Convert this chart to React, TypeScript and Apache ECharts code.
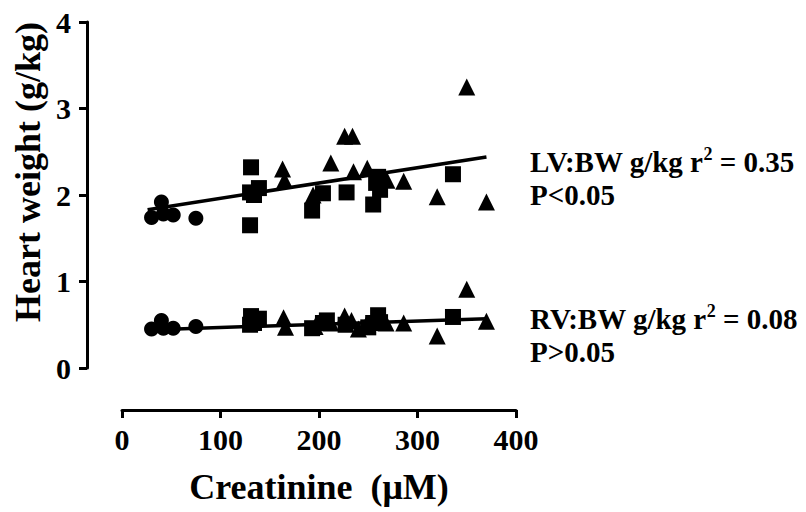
import React, { useEffect, useRef } from "react";
import * as echarts from "echarts";

// Creatinine (µM) vs heart weight normalised to body weight (g/kg)
const lvCircles: [number, number][] = [
  [30, 1.74], [40, 1.92], [42, 1.78], [52, 1.77], [75, 1.73],
];
const lvSquares: [number, number][] = [
  [130, 1.65], [131, 2.32], [130, 2.03], [134, 2.0], [139, 2.08],
  [193, 1.82], [204, 2.02], [228, 2.03], [255, 1.89], [260, 2.21],
  [262, 2.06], [258, 2.14], [336, 2.24],
];
const lvTriangles: [number, number][] = [
  [163, 2.3], [165, 2.17], [194, 2.0], [212, 2.37], [226, 2.68],
  [234, 2.68], [235, 2.27], [249, 2.31], [269, 2.17], [286, 2.16],
  [320, 1.98], [350, 3.25], [370, 1.92],
];
const rvCircles: [number, number][] = [
  [30, 0.45], [40, 0.55], [42, 0.46], [52, 0.46], [75, 0.48],
];
const rvSquares: [number, number][] = [
  [130, 0.5], [131, 0.6], [134, 0.52], [139, 0.57], [193, 0.46],
  [204, 0.52], [208, 0.55], [227, 0.5], [250, 0.47], [255, 0.52],
  [260, 0.61], [262, 0.53], [336, 0.59],
];
const rvTriangles: [number, number][] = [
  [164, 0.58], [166, 0.47], [196, 0.48], [212, 0.52], [226, 0.6],
  [233, 0.55], [240, 0.45], [248, 0.5], [268, 0.52], [286, 0.52],
  [320, 0.37], [350, 0.91], [370, 0.54],
];
// Linear fits drawn between their end points
const lvFit: [number, number][] = [[26, 1.83], [370, 2.44]];
const rvFit: [number, number][] = [[26, 0.44], [370, 0.57]];

const xTicks = [0, 100, 200, 300, 400];
const yTicks = [0, 1, 2, 3, 4];

const FONT = "'Liberation Serif', 'Times New Roman', Times, serif";

export default function App() {
  const ref = useRef<HTMLDivElement>(null);

  useEffect(() => {
    if (!ref.current) return;
    const chart = echarts.init(ref.current, undefined, { renderer: "svg" });

    const scatter = (data: [number, number][], symbol: string, size: number | number[]) => ({
      type: "scatter",
      data,
      symbol,
      symbolSize: size,
      itemStyle: { color: "#000", opacity: 1 },
      z: 3,
    });
    const fit = (data: [number, number][]) => ({
      type: "line",
      data,
      showSymbol: false,
      symbol: "none",
      lineStyle: { color: "#000", width: 3.5 },
      z: 2,
    });

    const axisText = { fontFamily: FONT, fontWeight: "bold", color: "#000" };
    const rich = {
      b: { fontFamily: FONT, fontWeight: "bold", fontSize: 29, fill: "#000", lineHeight: 33 },
      s: { fontFamily: FONT, fontWeight: "bold", fontSize: 18, fill: "#000", verticalAlign: "top", lineHeight: 33, padding: [0, 0, 15, 0] },
    };

    chart.setOption({
      animation: false,
      backgroundColor: "#fff",
      grid: { left: 122, right: 290, top: 22, bottom: 144 },
      xAxis: {
        type: "value",
        min: xTicks[0],
        max: xTicks[xTicks.length - 1],
        interval: 100,
        offset: 42,
        name: "Creatinine  (\u03BCM)",
        nameLocation: "middle",
        nameGap: 59,
        nameTextStyle: { ...axisText, fontSize: 36 },
        axisLine: { show: true, onZero: false, lineStyle: { color: "#000", width: 3 } },
        axisTick: { show: true, length: 8, lineStyle: { color: "#000", width: 3 } },
        axisLabel: { ...axisText, fontSize: 30, margin: 14 },
        splitLine: { show: false },
      },
      yAxis: {
        type: "value",
        min: yTicks[0],
        max: yTicks[yTicks.length - 1],
        interval: 1,
        offset: 35,
        axisLine: { show: true, onZero: false, lineStyle: { color: "#000", width: 3 } },
        axisTick: { show: true, length: 8, lineStyle: { color: "#000", width: 3 } },
        axisLabel: { ...axisText, fontSize: 30, margin: 16 },
        splitLine: { show: false },
      },
      graphic: [
        {
          type: "text",
          x: 28,
          y: 172,
          rotation: Math.PI / 2,
          style: {
            text: "Heart weight (g/kg)",
            fontFamily: FONT,
            fontWeight: "bold",
            fontSize: 36,
            fill: "#000",
            align: "center",
            verticalAlign: "middle",
          },
        },
        {
          type: "text",
          left: 530,
          top: 145,
          style: { text: "{b|LV:BW g/kg r}{s|2}{b| = 0.35}\n{b|P<0.05}", rich },
        },
        {
          type: "text",
          left: 530,
          top: 302,
          style: { text: "{b|RV:BW g/kg r}{s|2}{b| = 0.08}\n{b|P>0.05}", rich },
        },
      ],
      series: [
        fit(lvFit),
        fit(rvFit),
        scatter(lvCircles, "circle", 15),
        scatter(lvSquares, "rect", 16),
        scatter(lvTriangles, "triangle", [17, 17]),
        scatter(rvCircles, "circle", 15),
        scatter(rvSquares, "rect", 16),
        scatter(rvTriangles, "triangle", [17, 17]),
      ],
    });

    return () => chart.dispose();
  }, []);

  return (
    <div
      ref={ref}
      style={{ position: "absolute", left: 0, top: 0, width: 806, height: 512 }}
    />
  );
}
